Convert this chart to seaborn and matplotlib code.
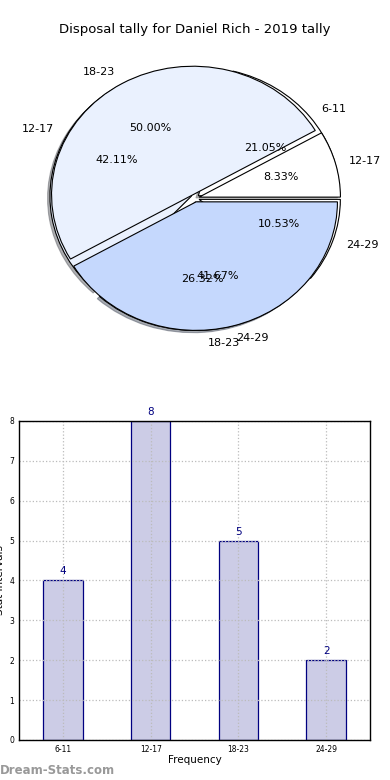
import numpy as np
import pandas as pd
import matplotlib
matplotlib.use("Agg")
import matplotlib.pyplot as plt
import seaborn as sns

# data
groups = ['6-11', '12-17', '18-23', '24-29']
counts = [4, 8, 5, 2]
groups2 = ['12-17', '18-23', '24-29']
counts2 = [1, 6, 5]

sns.set_style('white')
plt.rcParams['font.family'] = ['DejaVu Sans']
plt.rcParams['text.color'] = 'black'
plt.rcParams['axes.labelcolor'] = 'black'
plt.rcParams['xtick.color'] = 'black'
plt.rcParams['ytick.color'] = 'black'

fig = plt.figure(figsize=(3.9, 7.8), dpi=100)

# pie part - two tallies drawn on top of each other
ax1 = fig.add_axes([0.047, 0.540, 0.906, 0.412])
pie_cols = ['white', '#eaf1fe', '#c5d8fd']
ax1.pie(counts, labels=groups, autopct='%.2f%%', explode=[0.03] * 4,
        colors=['white', '#eaf1fe', '#c5d8fd', 'white'],
        shadow={'ox': -0.012, 'oy': -0.012, 'shade': 0.6},
        wedgeprops={'edgecolor': 'black', 'linewidth': 0.8},
        textprops={'fontsize': 8})
ax1.pie(counts2, labels=groups2, autopct='%.2f%%', explode=[0.03] * 3,
        colors=pie_cols, shadow=False,
        wedgeprops={'edgecolor': 'black', 'linewidth': 0.8},
        textprops={'fontsize': 8})
ax1.set_aspect('auto')
ax1.set_xlim(-1.25, 1.25)
ax1.set_ylim(-1.25, 1.25)
fig.text(0.5, 0.962, 'Disposal tally for Daniel Rich - 2019 tally',
         ha='center', va='center', fontsize=9.5)

# bar part
ax2 = fig.add_axes([0.049, 0.0513, 0.9, 0.409])
df = pd.DataFrame({'group': groups, 'count': counts})
sns.barplot(data=df, x='group', y='count', ax=ax2, color='#ccccE6',
            edgecolor='navy', linewidth=0.9, width=0.45, saturation=1)
for i, v in enumerate(counts):
    ax2.text(i, v + 0.1, str(v), ha='center', va='bottom',
             color='navy', fontsize=7.5)
ax2.set_ylim(0, 8)
ax2.set_xlim(-0.5, 3.5)
ax2.set_yticks(range(0, 9))
ax2.grid(True, color='#bbbbbb', linestyle=':', linewidth=0.9)
ax2.set_axisbelow(False)
ax2.tick_params(axis='both', labelsize=5.5, direction='in', length=3)
ax2.set_xlabel('Frequency', fontsize=7.5, labelpad=1)
ax2.set_ylabel('Stat intervals', fontsize=7.5, labelpad=3)
for s in ax2.spines.values():
    s.set_linewidth(1)
    s.set_color('black')
    s.set_zorder(5)

fig.text(0.0, 0.012, 'Dream-Stats.com', color='#999999', fontsize=8.5,
         fontweight='bold', ha='left', va='center')

fig.savefig('out.png', dpi=100)
